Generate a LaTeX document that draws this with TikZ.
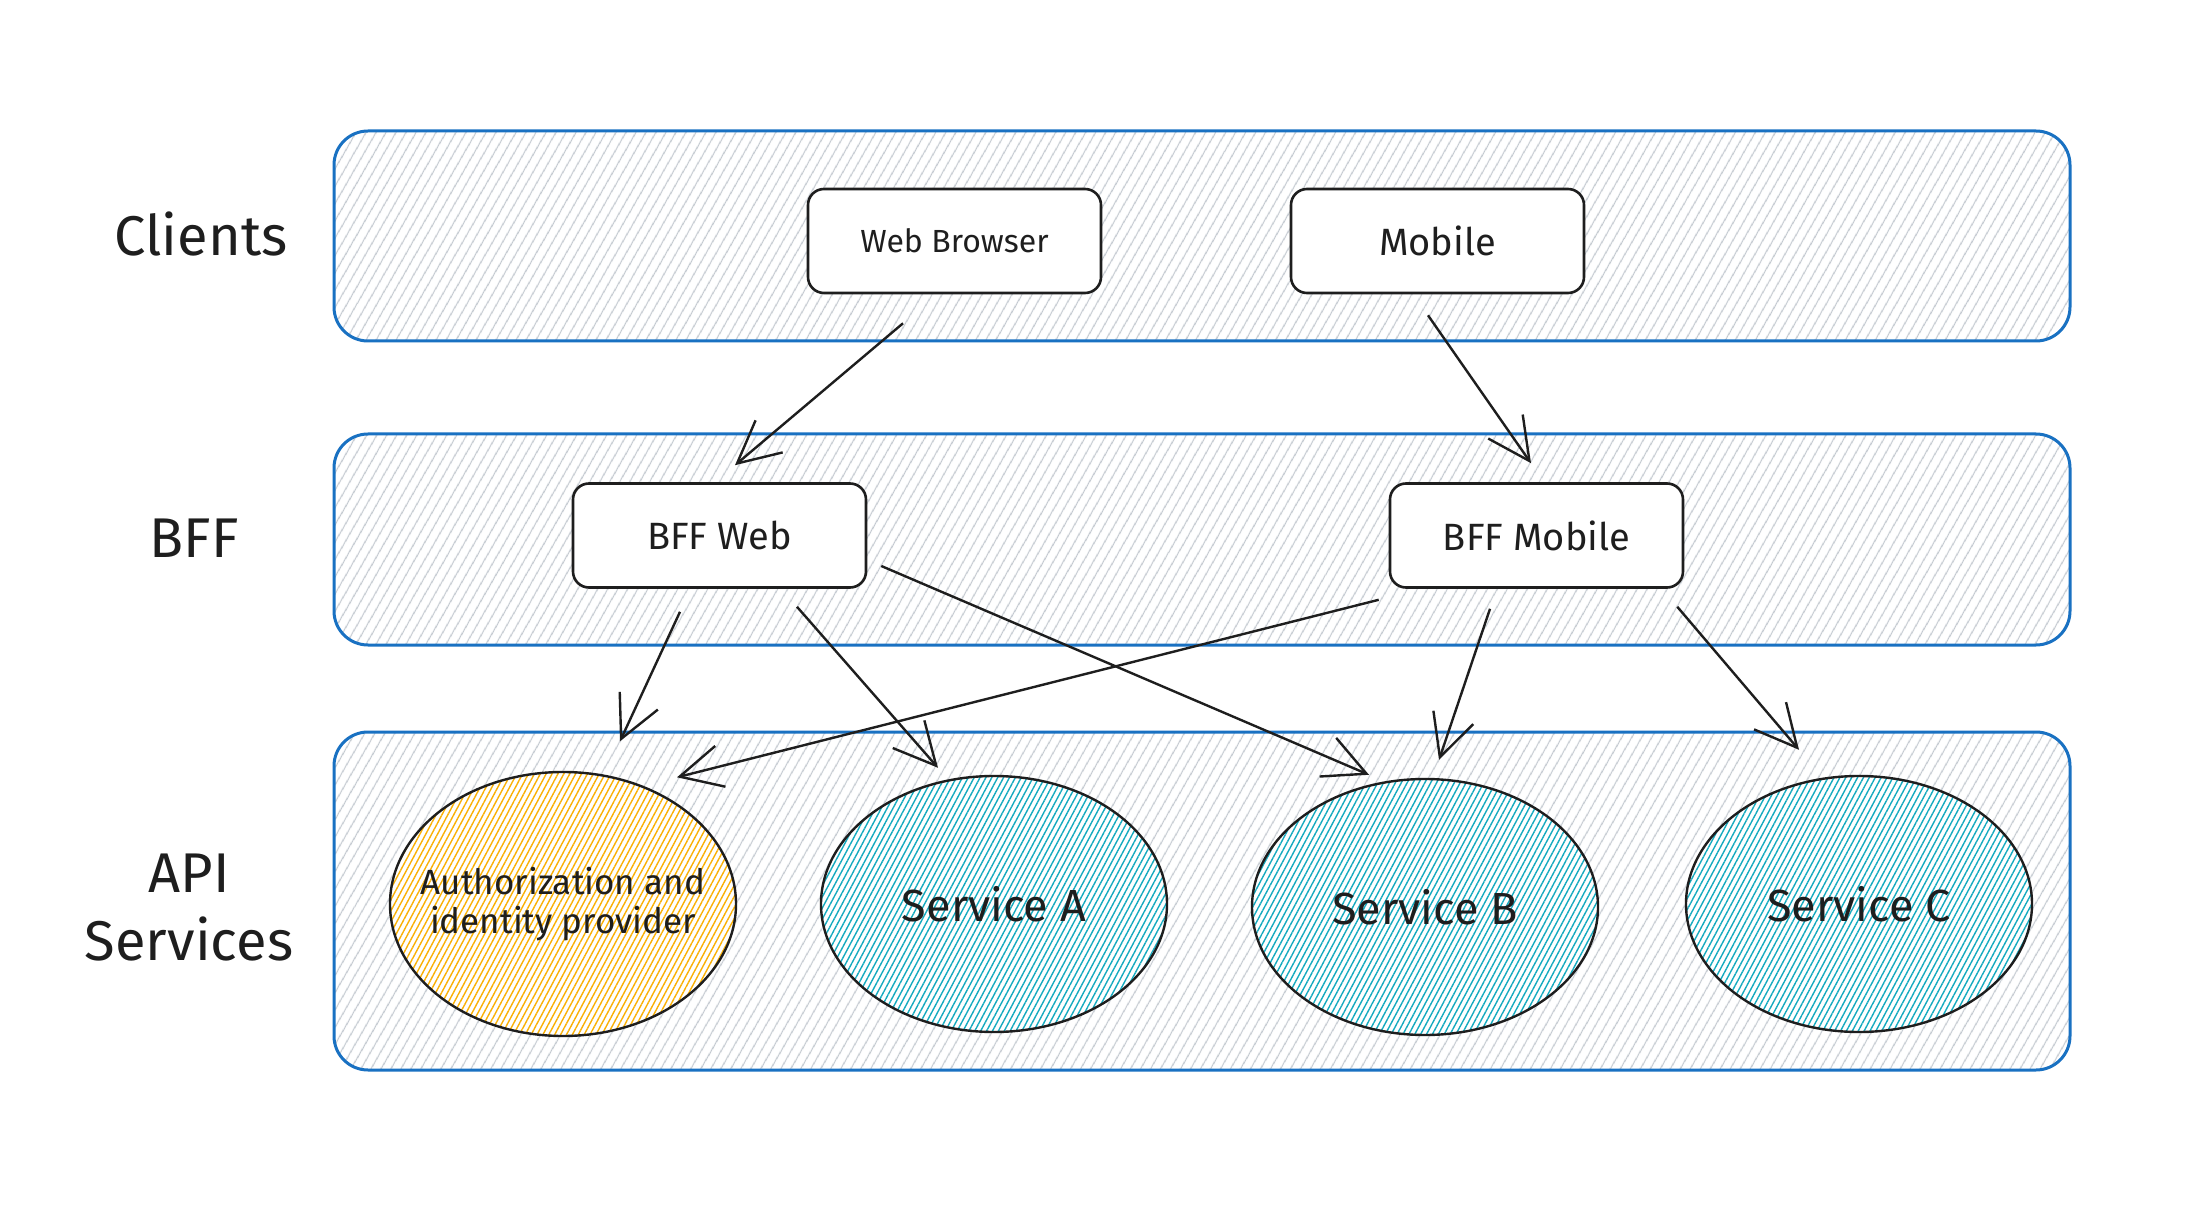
\documentclass[tikz,border=0pt]{standalone}
\usepackage{fontspec}
\setmainfont{Fira Sans}
\usetikzlibrary{shapes.geometric,arrows.meta,patterns.meta}
\definecolor{bandblue}{HTML}{1971C2}
\definecolor{hatchgray}{HTML}{C3C9D0}
\definecolor{authorange}{HTML}{FAB005}
\definecolor{svccyan}{HTML}{15AABF}
\definecolor{ink}{HTML}{1E1E1E}
\tikzset{
  band/.style={draw=bandblue, line width=1.5pt, rounded corners=17pt,
    minimum width=868pt, inner sep=0pt, preaction={fill=white},
    pattern={Lines[angle=60,distance=4pt,line width=0.6pt]}, pattern color=hatchgray},
  box/.style={draw=ink, line width=1.3pt, rounded corners=8pt, fill=white,
    minimum width=146.5pt, minimum height=52pt, inner sep=0pt, text=ink},
  svc/.style={ellipse, draw=ink, line width=1.2pt, preaction={fill=white},
    pattern={Lines[angle=62,distance=2.6pt,line width=0.7pt]}, pattern color=svccyan,
    minimum width=173pt, minimum height=128pt, inner sep=0pt, align=center, text=ink,
    font=\fontsize{22.5}{26}\selectfont},
  authsvc/.style={svc, pattern color=authorange, minimum height=132pt},
  lbl/.style={text=ink, align=center, font=\fontsize{28}{34}\selectfont},
  conn/.style={draw=ink, line width=1.2pt, -{Straight Barb[length=21pt,width=21pt,line width=1.2pt]}},
}
\begin{document}
\begin{tikzpicture}[x=0.5pt,y=-0.5pt]
\useasboundingbox (0,0) rectangle (2208,1214);
\fill[white] (0,0) rectangle (2208,1214);
% bands
\node[band, minimum height=105pt] (clientsband) at (1202,236) {};
\node[band, minimum height=105.5pt] (bffband) at (1202,539.5) {};
\node[band, minimum height=169pt] (apiband) at (1202,901) {};
% band labels
\node[lbl] (clientslbl) at (201,234) {Clients};
\node[lbl] (bfflbl) at (194,538) {BFF};
\node[lbl] (apilbl) at (189,908) {API\\Services};
% client boxes
\node[box, font=\fontsize{16}{19}\selectfont] (wb) at (954.5,241) {Web Browser};
\node[box, font=\fontsize{19}{22}\selectfont] (mob) at (1437.5,241) {Mobile};
% bff boxes
\node[box, font=\fontsize{19}{22}\selectfont] (bw) at (719.5,535.5) {BFF Web};
\node[box, font=\fontsize{19}{22}\selectfont] (bm) at (1536.5,535.5) {BFF Mobile};
% services
\node[authsvc, label={[align=center, text=ink, font=\fontsize{17.5}{19.5}\selectfont]center:Authorization and\\identity provider}] (auth) at (563,904) {};
\node[svc] (sa) at (994,904) {Service A};
\node[svc] (sb) at (1425,907) {Service B};
\node[svc] (sc) at (1859,904) {Service C};
% connectors
\draw[conn] ([xshift=-25.75pt,yshift=-14.5pt]wb.south) -- ([xshift=7.75pt,yshift=8.5pt]bw.north);
\draw[conn] ([xshift=-4.75pt,yshift=-10.5pt]mob.south) -- ([xshift=-2.75pt,yshift=9.5pt]bm.north);
\draw[conn] ([xshift=-19.75pt,yshift=-11.5pt]bw.south) -- ([xshift=28.5pt,yshift=15pt]auth.north);
\draw[conn] ([xshift=38.75pt,yshift=-9pt]bw.south) -- ([xshift=-28pt,yshift=3.5pt]sa.north);
\draw[conn] ([xshift=7pt,yshift=-15.25pt]bw.east) -- ([xshift=-28pt,yshift=1.5pt]sb.north);
\draw[conn] ([xshift=-5pt,yshift=-5.5pt]bm.south west) -- ([xshift=57pt,yshift=-3pt]auth.north);
\draw[conn] ([xshift=-23.25pt,yshift=-10pt]bm.south) -- ([xshift=7pt,yshift=9pt]sb.north);
\draw[conn] ([xshift=-3.5pt,yshift=-9pt]bm.south east) -- ([xshift=-30pt,yshift=12.5pt]sc.north);
\end{tikzpicture}
\end{document}
